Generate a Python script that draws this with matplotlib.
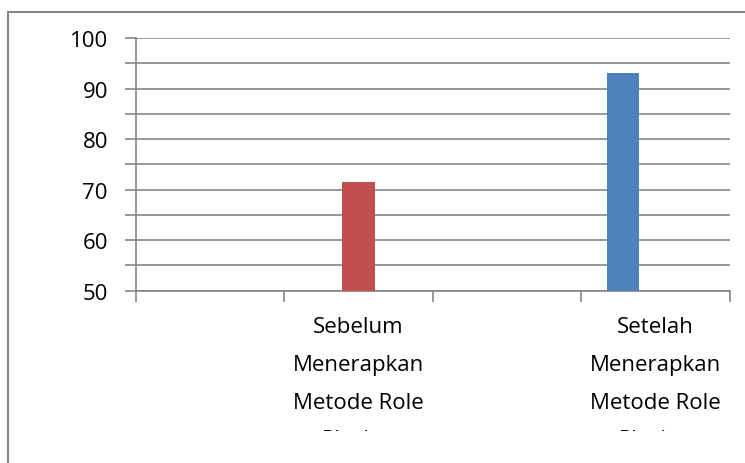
import matplotlib
matplotlib.use("Agg")
import matplotlib.pyplot as plt
from matplotlib.lines import Line2D
from matplotlib.patches import Rectangle
from matplotlib.transforms import blended_transform_factory

plt.rcParams['font.family'] = ['Open Sans', 'DejaVu Sans']

# data
categories = ["", "Sebelum\nMenerapkan\nMetode Role\nPlaying", "", "Setelah\nMenerapkan\nMetode Role\nPlaying"]
bar_cats = [1, 3]
bar_values = [71.5, 93.1]
bar_colors = ['#C0504D', '#4F81BD']
bar_offsets = [0.0, -0.22]
y_ticks = [50, 60, 70, 80, 90, 100]

grid_col = '#868686'

fig = plt.figure(figsize=(7.45, 4.64), dpi=100)
ax = fig.add_axes([135.7 / 745, 172.3 / 464, (730 - 135.7) / 745, (291.7 - 39) / 464])

for c, v, col, off in zip(bar_cats, bar_values, bar_colors, bar_offsets):
    ax.bar(c + off, v - 50, bottom=50, width=0.22, color=col, zorder=3)

ax.set_xlim(-0.5, len(categories) - 0.5)
ax.set_ylim(50, 100)
ax.set_yticks(y_ticks)
ax.set_yticks([55, 65, 75, 85, 95], minor=True)
ax.tick_params(axis='y', which='both', length=8, width=1.2, color=grid_col,
               labelsize=16, pad=12)
ax.set_xticks([i - 0.5 for i in range(len(categories) + 1)])
ax.set_xticklabels([])
ax.tick_params(axis='x', length=8, width=1.2, color=grid_col)
ax.grid(axis='y', which='both', color=grid_col, linewidth=1.2, zorder=0)
ax.set_axisbelow(True)
for s in ['top', 'right']:
    ax.spines[s].set_visible(False)
for s in ['left', 'bottom']:
    ax.spines[s].set_color(grid_col)
    ax.spines[s].set_linewidth(1.2)

# category labels
trans = blended_transform_factory(ax.transData, ax.transAxes)
for i, lab in enumerate(categories):
    if lab:
        ax.text(i, -0.1, lab, transform=trans, ha='center', va='top',
                fontsize=16, linespacing=2.05)

# the last label line is cut off in the original chart
fig.add_artist(Rectangle((9 / 745, 0), 1, 32 / 464, transform=fig.transFigure,
                         facecolor='white', edgecolor='none', zorder=5))

# outer chart border (left and top visible)
fig.add_artist(Line2D([8 / 745, 8 / 745], [0, 451 / 464], color=grid_col, lw=1.5, zorder=6))
fig.add_artist(Line2D([8 / 745, 1], [451 / 464, 451 / 464], color=grid_col, lw=1.5, zorder=6))

fig.savefig("out.png", dpi=100)
